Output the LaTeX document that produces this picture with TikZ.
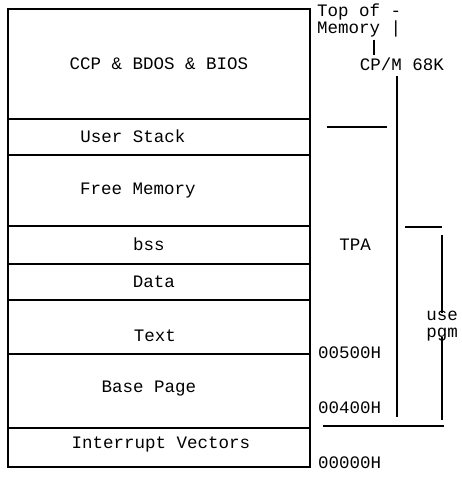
\documentclass[tikz,border=0pt]{standalone}
\usepackage{fontspec}
\setmonofont{Liberation Mono}
\begin{document}
\begin{tikzpicture}[x=1pt,y=-1pt,
  font=\ttfamily\fontsize{17.5}{21}\selectfont,
  lbl/.style={inner sep=0pt},
  mapline/.style={line width=1.3pt},
  brk/.style={line width=1.1pt}]
\useasboundingbox (0,0) rectangle (461,484);
% memory map
\draw[mapline] (8,9) rectangle (310,467);
\foreach \y in {119,155,226,264,300,354,428}
  \draw[mapline] (8,\y) -- (310,\y);
\node[lbl] (ccp) at (159,64) {CCP \& BDOS \& BIOS};
\node[lbl] (stack) at (133,136) {User Stack};
\node[lbl] (free) at (138,191) {Free Memory};
\node[lbl] (bss) at (149,244) {bss};
\node[lbl] (data) at (154,282) {Data};
\node[lbl] (text) at (155,336) {Text};
\node[lbl] (base) at (149,389) {Base Page};
\node[lbl] (irq) at (161,444) {Interrupt Vectors};
% right side labels
\node[lbl,anchor=west] (top) at (317,12) {Top of -};
\node[lbl,anchor=west] (mem) at (317,29) {Memory |};
\node[lbl] (cpm) at (402,64) {CP/M 68K};
\node[lbl] (tpa) at (355,245) {TPA};
\node[lbl,align=center,font=\ttfamily\fontsize{17.5}{17}\selectfont] (usepgm) at (442,326) {use\\pgm};
\node[lbl,anchor=west] (a500) at (318,353) {00500H};
\node[lbl,anchor=west] (a400) at (318,408) {00400H};
\node[lbl,anchor=west] (a000) at (318,463) {00000H};
% brackets
\coordinate (stubtop) at (374,40);
\coordinate (stubbot) at (374,55);
\coordinate (cpmtop) at (397,76);
\coordinate (cpmbot) at (397,417);
\coordinate (tpaL) at (327,127);
\coordinate (tpaR) at (387,127);
\coordinate (useL) at (405,227);
\coordinate (useR) at (442,227);
\coordinate (usetop) at (442,235);
\coordinate (pgmbot) at (442,420);
\coordinate (baseL) at (323,426);
\coordinate (baseR) at (444,426);
\draw[brk] (stubtop) -- (stubbot);
\draw[brk] (cpmtop) -- (cpmbot);
\draw[brk] (tpaL) -- (tpaR);
\draw[brk] (useL) -- (useR);
\draw[brk] (usetop) -- ([yshift=-2pt]usepgm.north);
\draw[brk] ([yshift=4pt]usepgm.south) -- (pgmbot);
\draw[brk] (baseL) -- (baseR);
\end{tikzpicture}
\end{document}
